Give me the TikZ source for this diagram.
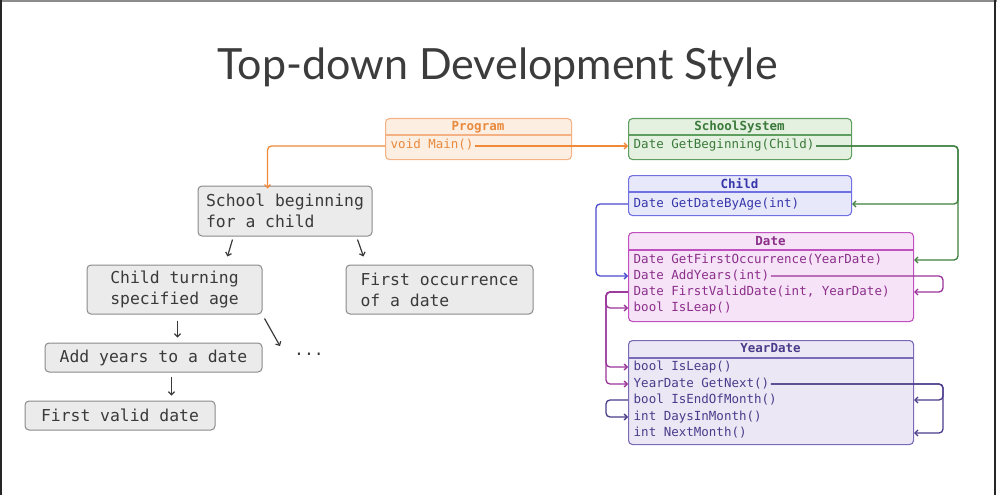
\documentclass[tikz,border=0pt]{standalone}
\usepackage{fontspec}
\setmainfont{Lato}
\setmonofont{DejaVu Sans Mono}
\usetikzlibrary{arrows.meta}

% class colours: border / fill / text / connector
\definecolor{progB}{HTML}{F4B183}\definecolor{progF}{HTML}{FDEEE2}
\definecolor{progT}{HTML}{E8893C}\definecolor{progL}{HTML}{F0893A}
\definecolor{ssB}{HTML}{5E9E5E}\definecolor{ssF}{HTML}{E4F0E0}
\definecolor{ssT}{HTML}{3A7A3A}\definecolor{ssL}{HTML}{3E7E3E}
\definecolor{chB}{HTML}{7070E0}\definecolor{chF}{HTML}{E8E8FB}
\definecolor{chT}{HTML}{3636AA}\definecolor{chL}{HTML}{4A4ACC}
\definecolor{dtB}{HTML}{C050C0}\definecolor{dtF}{HTML}{F7E3F7}
\definecolor{dtT}{HTML}{8B2F8B}\definecolor{dtL}{HTML}{993399}
\definecolor{ydB}{HTML}{7A6AB8}\definecolor{ydF}{HTML}{ECE7F5}
\definecolor{ydT}{HTML}{4B3B8B}\definecolor{ydL}{HTML}{4B3B8B}
\definecolor{taskF}{HTML}{EBEBEB}\definecolor{taskB}{HTML}{8A8A8A}
\definecolor{taskT}{HTML}{3A3A3A}\definecolor{titleT}{HTML}{3C3C3C}

\begin{document}
\begin{tikzpicture}[x=1pt,y=-1pt,
  cls/.style={draw, rounded corners=4pt, line width=1.1pt, anchor=north west, inner sep=0pt},
  hdr/.style={inner sep=0pt, font=\ttfamily\bfseries\fontsize{12.5}{14}\selectfont},
  row/.style={anchor=west, inner xsep=1.5pt, inner ysep=0pt, text height=9pt, text depth=3pt,
              font=\ttfamily\fontsize{12.5}{14}\selectfont},
  conn/.style={line width=1.3pt, rounded corners=4pt},
  tip/.style={-{Straight Barb[length=3pt,width=6pt]}},
  task/.style={draw=taskB, fill=taskF, line width=1pt, rounded corners=4pt, text=taskT,
               inner xsep=8pt, font=\ttfamily\fontsize{16.4}{21}\selectfont},
  tarrow/.style={draw=taskT, line width=1.2pt, -{Straight Barb[length=3pt,width=6pt]}}
]
\useasboundingbox (0,0) rectangle (997,495);

% slide frame
\draw[line width=1.5pt, black!45] (0,1) -- (997,1);
\draw[line width=2pt, black!85] (1,0) -- (1,495);
\draw[line width=2pt, black!85] (995,0) -- (995,495);

% title
\node[font=\fontsize{43}{50}\selectfont, text=titleT, inner sep=0pt, anchor=base] (title) at (497.5,80) {Top-down Development Style};

% ---------- class boxes ----------
% Program
\node[cls, draw=progB, fill=progF, minimum width=186pt, minimum height=41pt] (prog) at (385,118) {};
\draw[progB, line width=1.1pt] (prog.west |- 0,135) -- (prog.east |- 0,135);
\node[hdr, text=progT] (prog-h) at (478,127) {Program};
\node[row, text=progT] (p-main) at (389,146) {void Main()};

% SchoolSystem
\node[cls, draw=ssB, fill=ssF, minimum width=223pt, minimum height=41pt] (ss) at (628,118) {};
\draw[ssB, line width=1.1pt] (ss.west |- 0,135) -- (ss.east |- 0,135);
\node[hdr, text=ssT] (ss-h) at (739.5,127) {SchoolSystem};
\node[row, text=ssT] (ss-gb) at (632,146) {Date GetBeginning(Child)};

% Child
\node[cls, draw=chB, fill=chF, minimum width=223pt, minimum height=40pt] (ch) at (628,175) {};
\draw[chB, line width=1.1pt] (ch.west |- 0,192) -- (ch.east |- 0,192);
\node[hdr, text=chT] (ch-h) at (739.5,184) {Child};
\node[row, text=chT] (ch-gd) at (632,204) {Date GetDateByAge(int)};

% Date
\node[cls, draw=dtB, fill=dtF, minimum width=285pt, minimum height=89pt] (dt) at (628,232) {};
\draw[dtB, line width=1.1pt] (dt.west |- 0,250) -- (dt.east |- 0,250);
\node[hdr, text=dtT] (dt-h) at (770.5,241) {Date};
\node[row, text=dtT] (d-gfo) at (632,260) {Date GetFirstOccurrence(YearDate)};
\node[row, text=dtT] (d-ay)  at (632,276) {Date AddYears(int)};
\node[row, text=dtT] (d-fvd) at (632,292) {Date FirstValidDate(int, YearDate)};
\node[row, text=dtT] (d-il)  at (632,308) {bool IsLeap()};

% YearDate
\node[cls, draw=ydB, fill=ydF, minimum width=285pt, minimum height=104pt] (yd) at (628,340) {};
\draw[ydB, line width=1.1pt] (yd.west |- 0,358) -- (yd.east |- 0,358);
\node[hdr, text=ydT] (yd-h) at (770.5,348) {YearDate};
\node[row, text=ydT] (yd-il)   at (632,367) {bool IsLeap()};
\node[row, text=ydT] (yd-gn)   at (632,384) {YearDate GetNext()};
\node[row, text=ydT] (yd-ieom) at (632,400) {bool IsEndOfMonth()};
\node[row, text=ydT] (yd-dim)  at (632,417) {int DaysInMonth()};
\node[row, text=ydT] (yd-nm)   at (632,433) {int NextMonth()};

% ---------- task boxes ----------
\node[task, align=left, minimum width=174pt, minimum height=50pt] (sb) at (285,211) {School beginning\\for a child};
\node[task, align=center, minimum width=175pt, minimum height=49pt] (ct) at (174.5,289.5) {Child turning\\specified age};
\node[task, align=left, minimum width=187pt, minimum height=49pt] (fo) at (439.5,289.5) {First occurrence\\of a date};
\node[task, minimum width=217pt, minimum height=29pt] (ay) at (153.5,357.5) {Add years to a date};
\node[task, minimum width=190pt, minimum height=29pt] (fv) at (120,415.5) {First valid date};
\node[font=\ttfamily\fontsize{16.4}{21}\selectfont, text=taskT, inner sep=0pt] (dots) at (309,354) {...};

% task arrows
\draw[tarrow] ([shift={(35,3)}]sb.south west) -- ([shift={(141,-8)}]ct.north west);
\draw[tarrow] ([shift={(160,3)}]sb.south west) -- ([shift={(18,-8)}]fo.north west);
\draw[tarrow] ([shift={(91,6)}]ct.south west) -- ([shift={(133,-5)}]ay.north west);
\draw[tarrow] ([shift={(2,4)}]ct.south east) -- ([shift={(-14,-8)}]dots.west);
\draw[tarrow] ([shift={(127,4)}]ay.south west) -- ([shift={(147,-5)}]fv.north west);

% ---------- call connectors ----------
\coordinate (gbus) at (958,0);
\coordinate (rbus) at (943,0);
\coordinate (lbus) at (606,0);
\coordinate (cbus) at (596,0);

% Program
\draw[conn, progL, tip] (prog.west |- p-main) -| ([xshift=70pt,yshift=-3pt]sb.north west);
\draw[conn, progL, tip] (p-main.east) -- (ss.west |- p-main);

% SchoolSystem
\draw[conn, ssL, tip] (ss-gb.east) -- (ss-gb -| gbus) |- (dt.east |- d-gfo);
\draw[conn, ssL, tip] (ss-gb.east) -- (ss-gb -| gbus) |- (ch.east |- ch-gd);

% Child
\draw[conn, chL, tip] (ch.west |- ch-gd) -- (ch-gd -| cbus) |- (dt.west |- d-ay);

% Date
\draw[conn, dtL, tip] (d-ay.east) -- (d-ay -| rbus) |- (dt.east |- d-fvd);
\draw[conn, dtL, tip] (dt.west |- d-fvd) -- (d-fvd -| lbus) |- (dt.west |- d-il);
\draw[conn, dtL, tip] (dt.west |- d-fvd) -- (d-fvd -| lbus) |- (yd.west |- yd-il);
\draw[conn, dtL, tip] (dt.west |- d-fvd) -- (d-fvd -| lbus) |- (yd.west |- yd-gn);

% YearDate
\draw[conn, ydL, tip] (yd-gn.east) -- (yd-gn -| rbus) |- (yd.east |- yd-ieom);
\draw[conn, ydL, tip] (yd-gn.east) -- (yd-gn -| rbus) |- (yd.east |- yd-nm);
\draw[conn, ydL, tip] (yd.west |- yd-ieom) -- (yd-ieom -| lbus) |- (yd.west |- yd-dim);
\end{tikzpicture}
\end{document}
